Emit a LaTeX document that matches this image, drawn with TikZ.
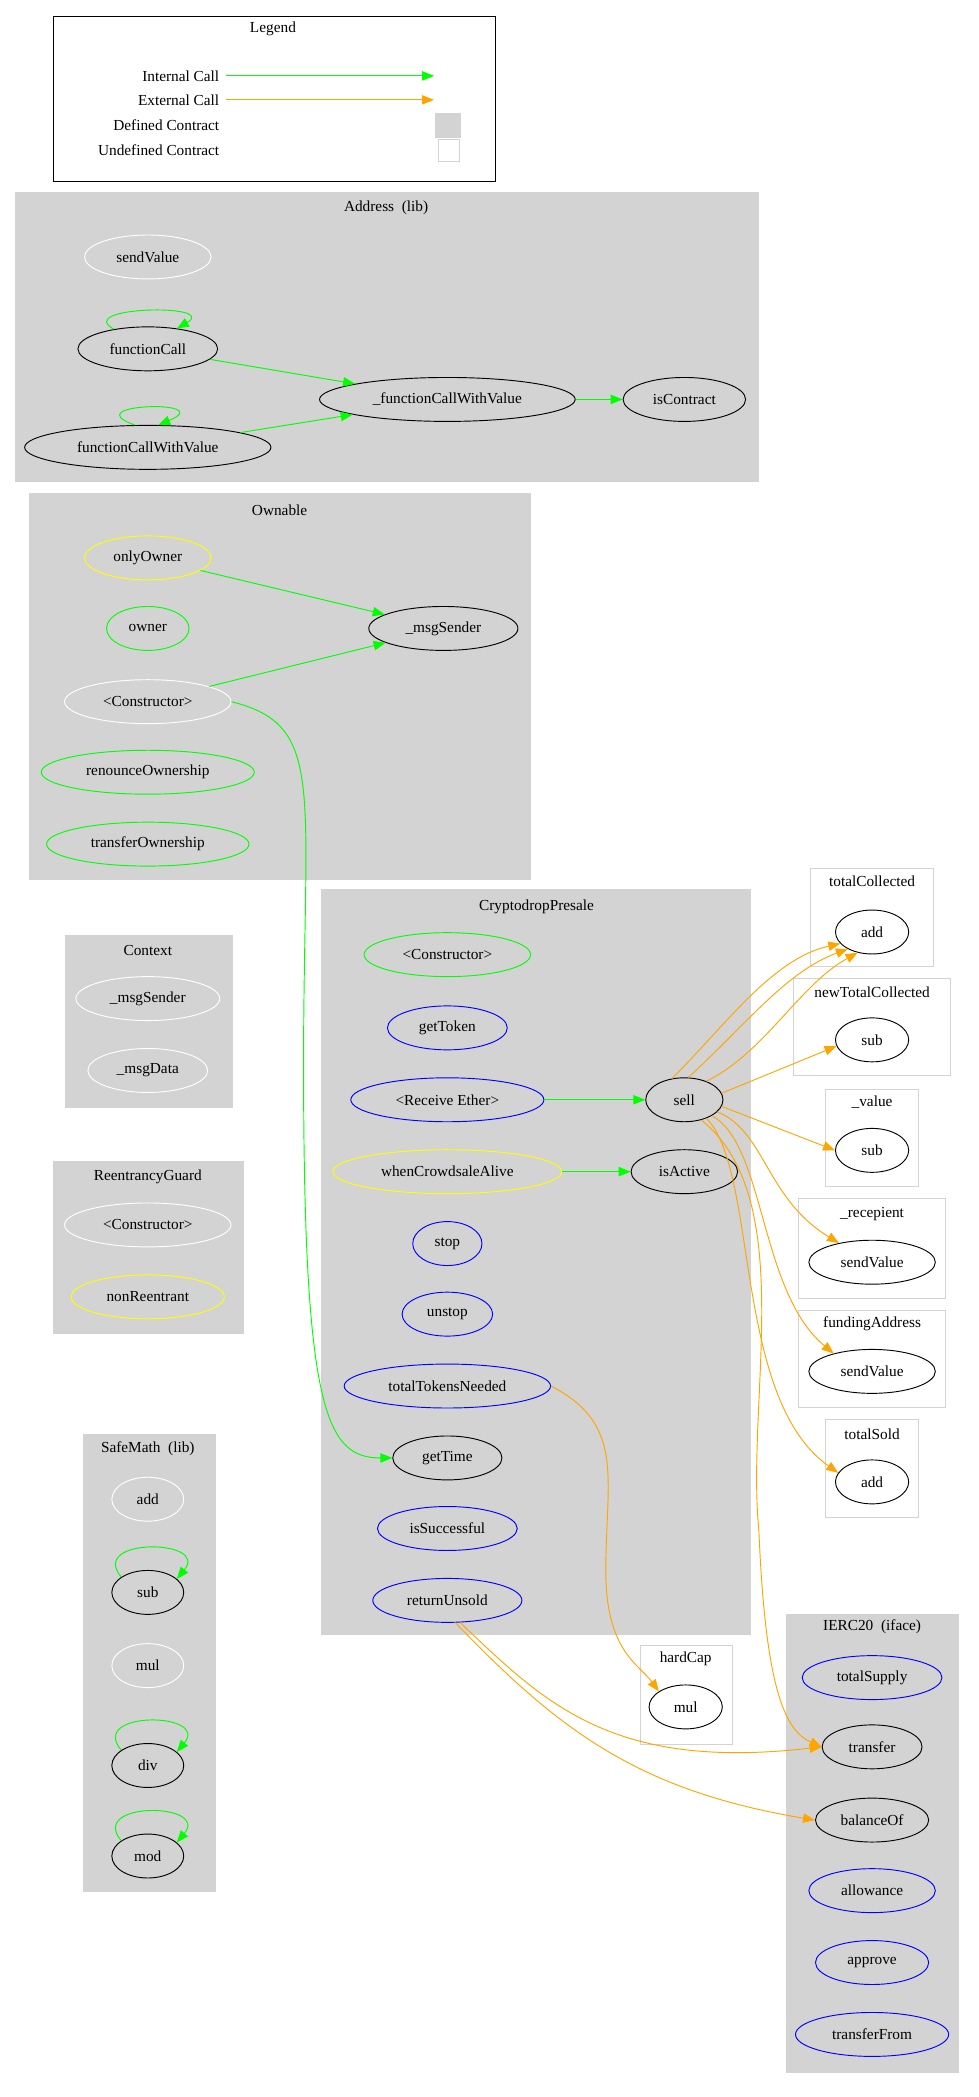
\documentclass[tikz,border=0pt]{standalone}
\usepackage{fontspec}
\setmainfont{Liberation Serif}
\usetikzlibrary{shapes.geometric,arrows.meta}
\definecolor{gvorange}{HTML}{FFA500}
\definecolor{gvgreen}{HTML}{00FF00}
\definecolor{gvyellow}{HTML}{FFFF00}
\definecolor{gvblue}{HTML}{0000FF}
\definecolor{gvgray}{HTML}{D3D3D3}
\begin{document}
\begin{tikzpicture}[x=1pt,y=-1pt,font=\fontsize{11.5}{13}\selectfont,line width=0.7pt,
 fn/.style={ellipse,draw,minimum height=33pt,inner sep=0pt,fill=none},
 blk/.style={fn,draw=black},wht/.style={fn,draw=white},grn/.style={fn,draw=gvgreen},
 yel/.style={fn,draw=gvyellow},blu/.style={fn,draw=gvblue},
 sclu/.style={draw=gvgray,fill=white},
 gi/.style={draw=gvgreen,-{Triangle[length=9pt,width=7pt]}},
 ex/.style={draw=gvorange,-{Triangle[length=9pt,width=7pt]}},
 ttl/.style={inner sep=0pt}]
\useasboundingbox (0,0) rectangle (735,1575);
% legend
\draw (40,12) rectangle (372,136);
\node[ttl] (lt) at (205,22) {Legend};
\node[ttl,anchor=east] (l1) at (165,57) {Internal Call};
\node[ttl,anchor=east] (l2) at (165,75) {External Call};
\node[ttl,anchor=east] (l3) at (165,94) {Defined Contract};
\node[ttl,anchor=east] (l4) at (165,113) {Undefined Contract};
\coordinate (a1) at (326,57); \coordinate (a2) at (326,75);
\draw[gi] (l1.east)++(5,0) coordinate(b1) -- (a1);
\draw[ex] (l2.east)++(5,0) coordinate(b2) -- (a2);
\fill[gvgray] (327,85) rectangle (346,104);
\draw[gvgray] (329,105) rectangle (345,121);
% Address
\fill[gvgray] (11,144) rectangle (570,362);
\node[ttl] at (290,156) {Address\ \ (lib)};
\node[wht,minimum width=95pt] (sv) at (111,193) {sendValue};
\node[blk,minimum width=105pt] (fc) at (111,262) {functionCall};
\node[blk,minimum width=185pt] (fcv) at (111,336) {functionCallWithValue};
\node[blk,minimum width=192pt] (ifcv) at (336,300) {\_functionCallWithValue};
\node[blk,minimum width=92pt] (ic) at (514,300) {isContract};
\draw[gi] (fc.150) .. controls (55,230) and (165,228) .. (fc.35);
\draw[gi] (fcv.120) .. controls (55,303) and (165,300) .. (fcv.65);
\draw[gi] (fc) -- (ifcv);
\draw[gi] (fcv) -- (ifcv);
\draw[gi] (ifcv) -- (ic);
% Ownable
\fill[gvgray] (22,370) rectangle (399,661);
\node[ttl] at (210,383) {Ownable};
\node[yel,minimum width=95pt] (oo) at (111,419) {onlyOwner};
\node[grn,minimum width=62pt] (ow) at (111,472) {owner};
\node[blk,minimum width=112pt] (ms) at (333,472) {\_msgSender};
\node[wht,minimum width=125pt] (oc) at (111,527) {<Constructor>};
\node[grn,minimum width=160pt] (ro) at (111,580) {renounceOwnership};
\node[grn,minimum width=152pt] (to) at (111,634) {transferOwnership};
\draw[gi] (oo) -- (ms);
\draw[gi] (oc) -- (ms);
% Context
\fill[gvgray] (49,702) rectangle (175,832);
\node[ttl] at (111,714) {Context};
\node[wht,minimum width=108pt] (cms) at (111,750) {\_msgSender};
\node[wht,minimum width=90pt] (cmd) at (111,804) {\_msgData};
% ReentrancyGuard
\fill[gvgray] (40,872) rectangle (183,1002);
\node[ttl] at (111,884) {ReentrancyGuard};
\node[wht,minimum width=125pt] (rc) at (111,920) {<Constructor>};
\node[yel,minimum width=115pt] (nr) at (111,974) {nonReentrant};
% SafeMath
\fill[gvgray] (62,1077) rectangle (162,1421);
\node[ttl] at (111,1088) {SafeMath\ \ (lib)};
\node[wht,minimum width=54pt] (sadd) at (111,1126) {add};
\node[blk,minimum width=54pt] (ssub) at (111,1196) {sub};
\node[wht,minimum width=54pt] (smul) at (111,1251) {mul};
\node[blk,minimum width=54pt] (sdiv) at (111,1326) {div};
\node[blk,minimum width=54pt] (smod) at (111,1394) {mod};
\foreach \n in {ssub,sdiv,smod}{\draw[gi] (\n.150) .. controls +(-25,-30) and +(25,-30) .. (\n.25);}
% CryptodropPresale
\fill[gvgray] (241,668) rectangle (564,1228);
\node[ttl] at (403,681) {CryptodropPresale};
\node[grn,minimum width=125pt] (cc) at (336,717) {<Constructor>};
\node[blu,minimum width=90pt] (gtk) at (336,772) {getToken};
\node[blu,minimum width=145pt] (re) at (336,826) {<Receive Ether>};
\node[blk,minimum width=58pt] (sell) at (514,826) {sell};
\node[yel,minimum width=172pt] (wca) at (336,880) {whenCrowdsaleAlive};
\node[blk,minimum width=80pt] (ia) at (514,880) {isActive};
\node[blu,minimum width=52pt] (stop) at (336,934) {stop};
\node[blu,minimum width=68pt] (ust) at (336,987) {unstop};
\node[blu,minimum width=155pt] (ttn) at (336,1041) {totalTokensNeeded};
\node[blk,minimum width=82pt] (gt) at (336,1095) {getTime};
\node[blu,minimum width=105pt] (isu) at (336,1148) {isSuccessful};
\node[blu,minimum width=112pt] (ru) at (336,1202) {returnUnsold};
\draw[gi] (re) -- (sell);
\draw[gi] (wca) -- (ia);
\draw[gi] (oc.east) .. controls (245,545) and (228,590) .. (228,800) .. controls (228,1060) and (245,1095) .. (gt.west);
% small clusters
\draw[sclu] (609,652) rectangle (701,726); \node[ttl] at (655,662) {totalCollected};
\node[blk,minimum width=55pt] (tca) at (655,700) {add};
\draw[sclu] (596,735) rectangle (714,808); \node[ttl] at (655,745) {newTotalCollected};
\node[blk,minimum width=55pt] (ntcs) at (655,781) {sub};
\draw[sclu] (620,818) rectangle (690,891); \node[ttl] at (655,828) {\_value};
\node[blk,minimum width=55pt] (vs) at (655,864) {sub};
\draw[sclu] (600,900) rectangle (710,975); \node[ttl] at (655,912) {\_recepient};
\node[blk,minimum width=95pt] (rsv) at (655,948) {sendValue};
\draw[sclu] (600,984) rectangle (710,1057); \node[ttl] at (655,994) {fundingAddress};
\node[blk,minimum width=95pt] (fsv) at (655,1030) {sendValue};
\draw[sclu] (620,1066) rectangle (690,1140); \node[ttl] at (655,1077) {totalSold};
\node[blk,minimum width=55pt] (tsa) at (655,1113) {add};
\draw[sclu] (481,1236) rectangle (550,1310); \node[ttl] at (515,1246) {hardCap};
\node[blk,minimum width=55pt] (hm) at (515,1282) {mul};
% IERC20
\fill[gvgray] (590,1212) rectangle (720,1557);
\node[ttl] at (655,1222) {IERC20\ \ (iface)};
\node[blu,minimum width=105pt] (tsu) at (655,1260) {totalSupply};
\node[blk,minimum width=75pt] (tr) at (655,1312) {transfer};
\node[blk,minimum width=85pt] (bo) at (655,1367) {balanceOf};
\node[blu,minimum width=95pt] (al) at (655,1420) {allowance};
\node[blu,minimum width=85pt] (ap) at (655,1474) {approve};
\node[blu,minimum width=115pt] (tf) at (655,1528) {transferFrom};
% external calls
\draw[ex] (sell.120) .. controls (545,770) and (580,720) .. (tca.200);
\draw[ex] (sell.80) .. controls (560,770) and (590,730) .. (tca.215);
\draw[ex] (sell.40) .. controls (575,790) and (600,740) .. (tca.235);
\draw[ex] (sell.10) -- (ntcs.190);
\draw[ex] (sell.-10) -- (vs.180);
\draw[ex] (sell.-20) .. controls (575,850) and (575,900) .. (rsv.150);
\draw[ex] (sell.-30) .. controls (575,860) and (570,970) .. (fsv.155);
\draw[ex] (sell.-40) .. controls (570,880) and (550,1050) .. (tsa.165);
\draw[ex] (sell.-50) .. controls (600,900) and (560,1050) .. (570,1150) .. controls (575,1270) and (590,1300) .. (tr.west);
\draw[ex] (ttn.east) .. controls (470,1070) and (455,1110) .. (455,1180) .. controls (455,1240) and (480,1250) .. (hm.150);
\draw[ex] (ru.-60) .. controls (410,1280) and (460,1330) .. (tr.west);
\draw[ex] (ru.-70) .. controls (420,1300) and (480,1345) .. (bo.west);
\end{tikzpicture}
\end{document}
